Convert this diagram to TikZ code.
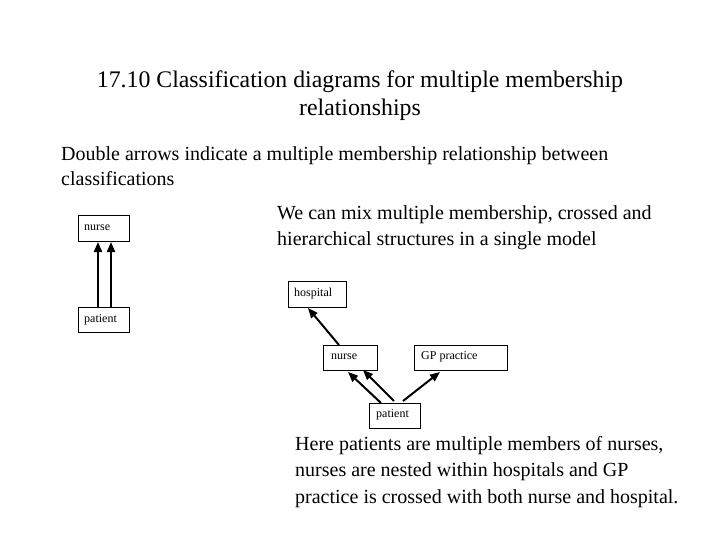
\documentclass[tikz,border=0pt]{standalone}
\usepackage{fontspec}
\setmainfont{Liberation Serif}
\usetikzlibrary{arrows.meta}
\begin{document}
\begin{tikzpicture}[x=1pt,y=-1pt,
  lbl/.style={anchor=west,inner sep=0pt,font=\fontsize{12}{14}\selectfont},
  bx/.style={line width=1pt},
  txt/.style={anchor=base west,inner sep=0pt,font=\fontsize{20}{24}\selectfont},
  ttl/.style={anchor=base,inner sep=0pt,font=\fontsize{23.8}{28}\selectfont},
  arr/.style={line width=2pt,-{Triangle[length=10pt,width=8pt]}}]
\useasboundingbox (0,0) rectangle (720,540);
% title
\node[ttl] (t1) at (360,88) {17.10 Classification diagrams for multiple membership};
\node[ttl] (t2) at (360,116) {relationships};
\node[txt] (d1) at (61,161) {Double arrows indicate a multiple membership relationship between};
\node[txt] (d2) at (61,186) {classifications};
\node[txt] (w1) at (277,220) {We can mix multiple membership, crossed and};
\node[txt] (w2) at (277,245) {hierarchical structures in a single model};
\node[txt] (h1) at (295,450) {Here patients are multiple members of nurses,};
\node[txt] (h2) at (295,476) {nurses are nested within hospitals and GP};
\node[txt] (h3) at (295,503) {practice is crossed with both nurse and hospital.};
% left diagram
\draw[bx] (78,216) rectangle (129,241);
\node[lbl] (ln) at (84,228) {nurse};
\draw[bx] (78,307) rectangle (129,332);
\node[lbl] (lp) at (84,320) {patient};
\coordinate (la1) at (98,307); \coordinate (la2) at (98,242);
\coordinate (lb1) at (111,307); \coordinate (lb2) at (111,242);
\draw[arr] (la1) -- (la2);
\draw[arr] (lb1) -- (lb2);
% right diagram
\draw[bx] (288,281) rectangle (346,307);
\node[lbl] (rh) at (294,294) {hospital};
\draw[bx] (323,345) rectangle (377,370);
\node[lbl] (rn) at (331,357) {nurse};
\draw[bx] (414,345) rectangle (507,370);
\node[lbl] (rg) at (421,357) {GP practice};
\draw[bx] (369,403) rectangle (420,428);
\node[lbl] (rp) at (376,415) {patient};
\coordinate (n1) at (339,345); \coordinate (n2) at (308,308);
\coordinate (p1) at (381,403); \coordinate (p2) at (348,372);
\coordinate (q1) at (394,401); \coordinate (q2) at (363,370);
\coordinate (g1) at (403,401); \coordinate (g2) at (440,372);
\draw[arr] (n1) -- (n2);
\draw[arr] (p1) -- (p2);
\draw[arr] (q1) -- (q2);
\draw[arr] (g1) -- (g2);
\end{tikzpicture}
\end{document}
